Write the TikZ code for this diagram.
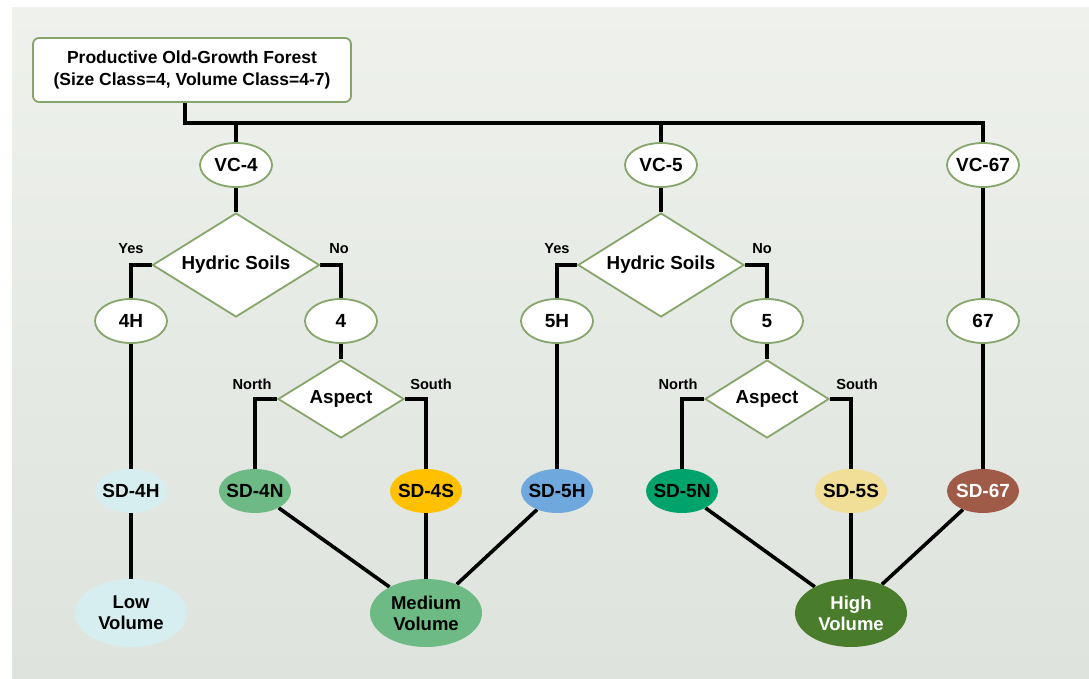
\documentclass[tikz,border=0pt]{standalone}
\usepackage{fontspec}
\setmainfont{Liberation Sans}
\usetikzlibrary{shapes.geometric,backgrounds}
\pgfdeclarelayer{bottomlayer}
\pgfsetlayers{bottomlayer,background,main}
\definecolor{bordergreen}{HTML}{86A56A}
\definecolor{bgtop}{HTML}{EEF1EC}
\definecolor{bgbot}{HTML}{DEE3DD}
\definecolor{cLow}{HTML}{D6EEF0}
\definecolor{cMed}{HTML}{6DBA85}
\definecolor{cYel}{HTML}{FFC000}
\definecolor{cBlue}{HTML}{6FA8DC}
\definecolor{cTeal}{HTML}{00A36C}
\definecolor{cSand}{HTML}{F1DE97}
\definecolor{cBrown}{HTML}{A05A48}
\definecolor{cHigh}{HTML}{4A7D2B}
\newcommand{\zw}[1]{\makebox[0pt]{#1}}
\tikzset{
  conn/.style={line width=3.6pt, black},
  whiteell/.style={ellipse, draw=bordergreen, line width=1.8pt, fill=white, minimum width=72pt, minimum height=44pt, inner sep=0pt, font=\fontsize{19}{21}\selectfont\bfseries},
  sdell/.style={ellipse, minimum width=72pt, minimum height=44pt, inner sep=0pt, font=\fontsize{19}{21}\selectfont\bfseries},
  volell/.style={ellipse, minimum width=112pt, minimum height=68pt, inner sep=0pt, align=center, font=\fontsize{18.5}{21}\selectfont\bfseries},
  decide/.style={diamond, draw=bordergreen, line width=1.8pt, fill=white, inner sep=0pt, font=\fontsize{18.8}{21}\selectfont\bfseries},
  lab/.style={font=\fontsize{14.6}{16}\selectfont\bfseries, inner sep=0pt}
}
\begin{document}
\begin{tikzpicture}[x=1pt,y=-1pt]
\useasboundingbox (0,0) rectangle (1089,679);
\begin{pgfonlayer}{bottomlayer}
\fill[white] (0,0) rectangle (1089,679);
\shade[top color=bgtop, bottom color=bgbot] (12,8) rectangle (1089,679);
\end{pgfonlayer}

\node[draw=bordergreen, line width=1.8pt, fill=white, rounded corners=6pt, minimum width=318pt, minimum height=64pt, align=center, font=\fontsize{17.5}{21.5}\selectfont\bfseries] (top) at (192,70) {Productive Old-Growth Forest\\(Size Class=4, Volume Class=4-7)};

\node[whiteell] (vc4) at (236,165) {\zw{VC-4}};
\node[whiteell] (vc5) at (661,165) {\zw{VC-5}};
\node[whiteell] (vc67) at (983,165) {\zw{VC-67}};

\node[decide, minimum width=167pt, minimum height=104pt] (hs1) at (236,265) {\zw{Hydric Soils}};
\node[decide, minimum width=166pt, minimum height=104pt] (hs2) at (661,265) {\zw{Hydric Soils}};

\node[whiteell] (n4h) at (131,321) {\zw{4H}};
\node[whiteell] (n4) at (341,321) {\zw{4}};
\node[whiteell] (n5h) at (557,321) {\zw{5H}};
\node[whiteell] (n5) at (767,321) {\zw{5}};
\node[whiteell] (n67) at (983,321) {\zw{67}};

\node[decide, minimum width=126pt, minimum height=78pt] (as1) at (341,399) {\zw{Aspect}};
\node[decide, minimum width=124pt, minimum height=78pt] (as2) at (767,399) {\zw{Aspect}};

\node[sdell, fill=cLow] (sd4h) at (131,491) {\zw{SD-4H}};
\node[sdell, fill=cMed] (sd4n) at (255,491) {\zw{SD-4N}};
\node[sdell, fill=cYel] (sd4s) at (426,491) {\zw{SD-4S}};
\node[sdell, fill=cBlue] (sd5h) at (557,491) {\zw{SD-5H}};
\node[sdell, fill=cTeal] (sd5n) at (682,491) {\zw{SD-5N}};
\node[sdell, fill=cSand] (sd5s) at (851,491) {\zw{SD-5S}};
\node[sdell, fill=cBrown, text=white] (sd67) at (983,491) {\zw{SD-67}};

\node[volell, fill=cLow] (low) at (131,613) {Low\\Volume};
\node[volell, fill=cMed] (med) at (426,613) {Medium\\Volume};
\node[volell, fill=cHigh, text=white] (high) at (851,613) {High\\Volume};

\node[lab] (y1) at (131,249) {Yes};
\node[lab] (no1) at (339,249) {No};
\node[lab] (y2) at (557,249) {Yes};
\node[lab] (no2) at (762,249) {No};
\node[lab] (nt1) at (252,384) {North};
\node[lab] (st1) at (431,384) {South};
\node[lab] (nt2) at (678,384) {North};
\node[lab] (st2) at (857,384) {South};

\coordinate (bus) at (185,123);

\begin{scope}[on background layer]
\draw[conn] (top.south -| bus) |- (bus -| vc67) -- (vc67.north);
\draw[conn] (bus -| vc4) -- (vc4.north);
\draw[conn] (bus -| vc5) -- (vc5.north);
\draw[conn] (vc4) -- (hs1);
\draw[conn] (vc5) -- (hs2);
\draw[conn] (vc67) -- (n67);
\draw[conn] (hs1.west) -| (n4h.north);
\draw[conn] (hs1.east) -| (n4.north);
\draw[conn] (hs2.west) -| (n5h.north);
\draw[conn] (hs2.east) -| (n5.north);
\draw[conn] (n4) -- (as1);
\draw[conn] (n5) -- (as2);
\draw[conn] (as1.west) -| (sd4n.north);
\draw[conn] (as1.east) -| (sd4s.north);
\draw[conn] (as2.west) -| (sd5n.north);
\draw[conn] (as2.east) -| (sd5s.north);
\draw[conn] (n4h) -- (sd4h);
\draw[conn] (n5h) -- (sd5h);
\draw[conn] (n67) -- (sd67);
\draw[conn] (sd4h) -- (low);
\draw[conn] (sd4n) -- (med);
\draw[conn] (sd4s) -- (med);
\draw[conn] (sd5h) -- (med);
\draw[conn] (sd5n) -- (high);
\draw[conn] (sd5s) -- (high);
\draw[conn] (sd67) -- (high);
\end{scope}
\end{tikzpicture}
\end{document}
